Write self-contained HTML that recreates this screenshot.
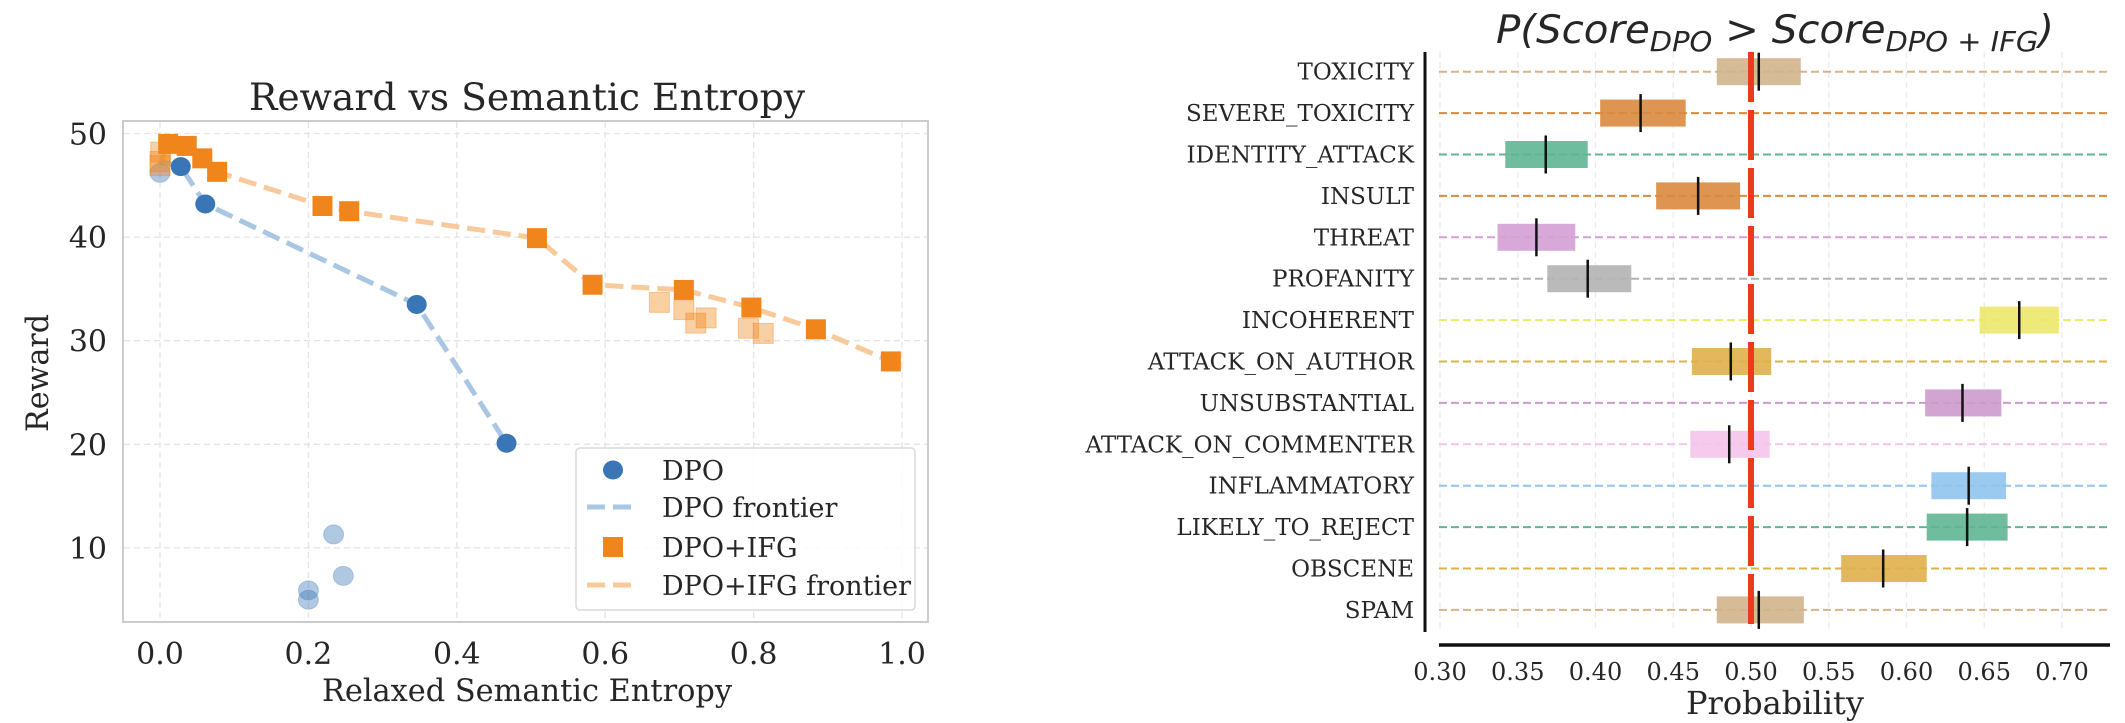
<!DOCTYPE html>
<html><head><meta charset="utf-8"><style>
html,body{margin:0;padding:0;background:#fff;}
svg{display:block;}
text{font-family:"DejaVu Serif","Liberation Serif",serif;fill:#262626;}
</style></head><body>
<svg id="root" width="2125" height="723" viewBox="0 0 2125 723" xmlns="http://www.w3.org/2000/svg">
<g id="left"></g>
<g id="right"></g>
</svg>
<script>
// ---- Left chart data ----
const dpoX = [0.028, 0.061, 0.346, 0.467];
const dpoY = [46.8, 43.2, 33.5, 20.1];
const dpoFadedX = [0.0, 0.234, 0.247, 0.200, 0.200];
const dpoFadedY = [46.2, 11.3, 7.3, 5.9, 5.0];
const dpoFrontX = [0.0, 0.028, 0.061, 0.346, 0.467];
const dpoFrontY = [47.3, 46.8, 43.2, 33.5, 20.1];
const ifgX = [0.011, 0.036, 0.057, 0.077, 0.219, 0.255, 0.508, 0.583, 0.706, 0.797, 0.884, 0.985];
const ifgY = [49.0, 48.8, 47.6, 46.3, 43.0, 42.5, 39.9, 35.4, 34.9, 33.2, 31.1, 28.0];
const ifgFadedX = [0.001, 0.0, 0.0, 0.673, 0.706, 0.722, 0.736, 0.793, 0.813];
const ifgFadedY = [48.2, 47.3, 46.9, 33.7, 33.0, 31.7, 32.2, 31.2, 30.7];
const ifgFrontX = [0.0, 0.011, 0.036, 0.057, 0.077, 0.219, 0.255, 0.508, 0.583, 0.706, 0.797, 0.884, 0.985];
const ifgFrontY = [47.0, 49.0, 48.8, 47.6, 46.3, 43.0, 42.5, 39.9, 35.4, 34.9, 33.2, 31.1, 28.0];
const xTicks = [0.0, 0.2, 0.4, 0.6, 0.8, 1.0];
const xTickLabels = ["0.0", "0.2", "0.4", "0.6", "0.8", "1.0"];
const yTicks = [10, 20, 30, 40, 50];
const yTickLabels = ["10", "20", "30", "40", "50"];

// ---- Right chart data ----
const categories = ["TOXICITY","SEVERE_TOXICITY","IDENTITY_ATTACK","INSULT","THREAT","PROFANITY","INCOHERENT","ATTACK_ON_AUTHOR","UNSUBSTANTIAL","ATTACK_ON_COMMENTER","INFLAMMATORY","LIKELY_TO_REJECT","OBSCENE","SPAM"];
const lowVals = [0.478,0.403,0.342,0.439,0.337,0.369,0.647,0.462,0.612,0.461,0.616,0.613,0.558,0.478];
const highVals = [0.532,0.458,0.395,0.493,0.387,0.423,0.698,0.513,0.661,0.512,0.664,0.665,0.613,0.534];
const meanVals = [0.505,0.429,0.368,0.466,0.362,0.395,0.6725,0.487,0.636,0.486,0.640,0.639,0.585,0.505];
const rowColors = ["#d2b48c","#d98a3e","#5fb594","#d98a3e","#d4a0d4","#b3b3b3","#ece86a","#e0b04a","#cc9acc","#f4c4ea","#8fc4ee","#5fb594","#e0b04a","#d2b48c"];
const probTicks = [0.30,0.35,0.40,0.45,0.50,0.55,0.60,0.65,0.70];
const probTickLabels = ["0.30","0.35","0.40","0.45","0.50","0.55","0.60","0.65","0.70"];
const refValue = 0.5;

const NS = "http://www.w3.org/2000/svg";
function mk(parent, tag, attrs, txt){
  const e = document.createElementNS(NS, tag);
  for (const k in attrs) e.setAttribute(k, attrs[k]);
  if (txt !== undefined) e.textContent = txt;
  parent.appendChild(e);
  return e;
}

// ===== LEFT =====
const L = document.getElementById('left');
const lx = v => 160 + v * 742;
const ly = v => 133.5 + (50 - v) * 10.36;
let e;
e = mk(L, 'rect', {x:123, y:121, width:805, height:501, fill:'#fff', stroke:'#cccccc', 'stroke-width':2});


xTicks.forEach((t,i)=>{
  e = mk(L,'line',{x1:lx(t),x2:lx(t),y1:122,y2:621,stroke:'#e4e4e4','stroke-width':1.3,'stroke-dasharray':'6 4'});
  
  
  e = mk(L,'text',{x:lx(t),y:664,'font-size':30,'text-anchor':'middle'},xTickLabels[i]);
  
  
});
yTicks.forEach((t,i)=>{
  e = mk(L,'line',{x1:124,x2:927,y1:ly(t),y2:ly(t),stroke:'#e4e4e4','stroke-width':1.3,'stroke-dasharray':'6 4'});
  
  
  e = mk(L,'text',{x:107,y:ly(t)+11,'font-size':30,'text-anchor':'end'},yTickLabels[i]);
  
  
});
e = mk(L,'text',{x:527,y:110,'font-size':37,'text-anchor':'middle',textLength:556,lengthAdjust:'spacingAndGlyphs'},'Reward vs Semantic Entropy');


e = mk(L,'text',{x:527,y:701,'font-size':31,'text-anchor':'middle',textLength:410,lengthAdjust:'spacingAndGlyphs'},'Relaxed Semantic Entropy');


e = mk(L,'text',{x:0,y:0,'font-size':31,'text-anchor':'middle',transform:'translate(48,373) rotate(-90)',textLength:118,lengthAdjust:'spacingAndGlyphs'},'Reward');



function pathFrom(xs, ys){ return xs.map((x,i)=>(i?'L':'M')+lx(x).toFixed(1)+' '+ly(ys[i]).toFixed(1)).join(' '); }
e = mk(L,'path',{d:pathFrom(ifgFrontX,ifgFrontY),fill:'none',stroke:'#f8c99a','stroke-width':5,'stroke-dasharray':'18 8'});


e = mk(L,'path',{d:pathFrom(dpoFrontX,dpoFrontY),fill:'none',stroke:'#a9c6e3','stroke-width':5,'stroke-dasharray':'18 8'});


dpoFadedX.forEach((x,i)=>{
  e = mk(L,'ellipse',{cx:lx(x),cy:ly(dpoFadedY[i]),rx:10,ry:9.5,fill:'#3a75b6','fill-opacity':0.4,stroke:'#3a75b6','stroke-opacity':0.3});
  
  
});
ifgFadedX.forEach((x,i)=>{
  e = mk(L,'rect',{x:lx(x)-10,y:ly(ifgFadedY[i])-10,width:20,height:20,fill:'#f0861b','fill-opacity':0.4,stroke:'#f0861b','stroke-opacity':0.4});
  
  
});
dpoX.forEach((x,i)=>{
  e = mk(L,'ellipse',{cx:lx(x),cy:ly(dpoY[i]),rx:10,ry:9.5,fill:'#3a75b6'});
  
  
});
ifgX.forEach((x,i)=>{
  e = mk(L,'rect',{x:lx(x)-10,y:ly(ifgY[i])-10,width:20,height:20,fill:'#f0861b'});
  
  
});
// legend
const lg = mk(L,'g',{});


mk(lg,'rect',{x:576,y:448,width:339,height:162,rx:4,fill:'#fff','fill-opacity':0.85,stroke:'#d8d8d8','stroke-width':1.5});
const legItems = [["DPO",470],["DPO frontier",507],["DPO+IFG",547],["DPO+IFG frontier",585]];
e = mk(lg,'ellipse',{cx:613,cy:470,rx:10,ry:9.5,fill:'#3a75b6'});


e = mk(lg,'line',{x1:587,x2:638,y1:507,y2:507,stroke:'#a9c6e3','stroke-width':5,'stroke-dasharray':'18 8'});


e = mk(lg,'rect',{x:603,y:537,width:20,height:20,fill:'#f0861b'});


e = mk(lg,'line',{x1:587,x2:638,y1:585,y2:585,stroke:'#f8c99a','stroke-width':5,'stroke-dasharray':'18 8'});


legItems.forEach(it=>{
  e = mk(lg,'text',{x:662,y:it[1]+10,'font-size':27},it[0]);
  
  
});

// ===== RIGHT =====
const R = document.getElementById('right');
const px = v => 1440 + (v - 0.30) / 0.05 * 77.75;
const ry = i => 71.7 + i * 41.4;
probTicks.forEach((t,i)=>{
  e = mk(R,'line',{x1:px(t),x2:px(t),y1:52,y2:632,stroke:'#ececec','stroke-width':1.3,'stroke-dasharray':'6 4'});
  
  
  e = mk(R,'text',{x:px(t),y:680,'font-size':24,'text-anchor':'middle'},probTickLabels[i]);
  
  
});
categories.forEach((c,i)=>{
  const y = ry(i);
  e = mk(R,'line',{x1:1439,x2:2110,y1:y,y2:y,stroke:rowColors[i],'stroke-width':2,'stroke-dasharray':'8 4'});
  
  
  e = mk(R,'rect',{x:px(lowVals[i]),y:y-13.5,width:px(highVals[i])-px(lowVals[i]),height:27,fill:rowColors[i],'fill-opacity':0.9});
  
  
  e = mk(R,'text',{x:1414,y:y+8,'font-size':23,'text-anchor':'end'},c);
  
  
});
e = mk(R,'line',{x1:px(refValue),x2:px(refValue),y1:52,y2:632,stroke:'#ee3a1c','stroke-width':6,'stroke-dasharray':'50 8'});


categories.forEach((c,i)=>{
  const y = ry(i);
  e = mk(R,'line',{x1:px(meanVals[i]),x2:px(meanVals[i]),y1:y-19,y2:y+19,stroke:'#111','stroke-width':2.5});
  
  
});
e = mk(R,'line',{x1:1425,x2:1425,y1:52,y2:632,stroke:'#111','stroke-width':3});


e = mk(R,'line',{x1:1439,x2:2110,y1:645,y2:645,stroke:'#111','stroke-width':3.5});


e = mk(R,'text',{x:1775,y:714,'font-size':32,'text-anchor':'middle',textLength:178,lengthAdjust:'spacingAndGlyphs'},'Probability');


e = mk(R,'text',{x:1775,y:43,'font-size':39,'text-anchor':'middle',style:'font-family:"DejaVu Sans","Liberation Sans",sans-serif;font-style:italic;',textLength:558,lengthAdjust:'spacingAndGlyphs'});


e.innerHTML = 'P(Score<tspan font-size="28" dy="8">DPO</tspan><tspan dy="-8"> &gt; Score</tspan><tspan font-size="28" dy="8">DPO + IFG</tspan><tspan dy="-8">)</tspan>';
</script>
</body></html>
